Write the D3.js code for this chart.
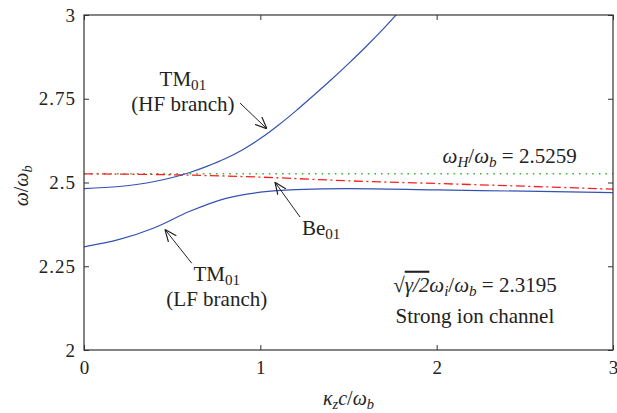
<!DOCTYPE html>
<html>
<head>
<meta charset="utf-8">
<script src="https://cdn.jsdelivr.net/npm/d3@7"></script>
<style>
body{margin:0;background:#fff;}
text{font-family:"Liberation Serif","Times New Roman",serif;fill:#222;}
</style>
</head>
<body>
<svg id="chart" width="617" height="413"></svg>
<script>
// ---- data ----
const xTicks = [0, 1, 2, 3];
const yTicks = [2, 2.25, 2.5, 2.75, 3];
const yTickLabels = ["2", "2.25", "2.5", "2.75", "3"];

const hfK = [0, 0.2, 0.4, 0.6, 0.7, 0.8, 0.9, 1.0, 1.1, 1.2, 1.3, 1.4, 1.5, 1.6, 1.7, 1.8];
const hfW = [2.482, 2.488, 2.503, 2.530, 2.549, 2.571, 2.598, 2.631, 2.670, 2.713, 2.759, 2.806, 2.855, 2.906, 2.960, 3.018];

const lfK = [0, 0.2, 0.4, 0.6, 0.8, 1.0, 1.2, 1.5, 2.0, 2.5, 3.0];
const lfW = [2.308, 2.330, 2.365, 2.414, 2.452, 2.471, 2.479, 2.482, 2.478, 2.474, 2.470];

const beK = [0, 0.5, 1.0, 1.5, 2.0, 2.5, 3.0];
const beW = [2.5259, 2.523, 2.516, 2.505, 2.497, 2.489, 2.480];

const omegaH = 2.5259;

// ---- layout ----
const svg = d3.select("#chart");
const m = {l: 84, t: 15, r: 4, b: 63};
const W = 617 - m.l - m.r, H = 413 - m.t - m.b;
const x = d3.scaleLinear().domain([0, 3]).range([0, W]);
const y = d3.scaleLinear().domain([2, 3]).range([H, 0]);
const g = svg.append("g").attr("transform", `translate(${m.l},${m.t})`);

const defs = svg.append("defs");
defs.append("clipPath").attr("id", "clip").append("rect").attr("width", W).attr("height", H);
defs.append("marker").attr("id", "arr").attr("viewBox", "0 0 10 10").attr("refX", 10).attr("refY", 5)
  .attr("markerWidth", 12).attr("markerHeight", 12).attr("markerUnits", "userSpaceOnUse").attr("orient", "auto")
  .append("path").attr("d", "M0,0.8 L10,5 L0,9.2").attr("fill", "none").attr("stroke", "#222").attr("stroke-width", 1);

// ---- lines ----
const line = d3.line().x(d => x(d[0])).y(d => y(d[1])).curve(d3.curveMonotoneX);
const plot = g.append("g").attr("clip-path", "url(#clip)");

plot.append("line").attr("x1", x(0)).attr("x2", x(3)).attr("y1", y(omegaH)).attr("y2", y(omegaH))
  .attr("stroke", "#3db43d").attr("stroke-width", 1.6).attr("stroke-dasharray", "1.6,5");
plot.append("path").datum(d3.zip(beK, beW)).attr("d", line).attr("fill", "none")
  .attr("stroke", "#f52020").attr("stroke-width", 1.3).attr("stroke-dasharray", "9,3.5,2,3.5");
plot.append("path").datum(d3.zip(hfK, hfW)).attr("d", line).attr("fill", "none")
  .attr("stroke", "#3452b2").attr("stroke-width", 1.2);
plot.append("path").datum(d3.zip(lfK, lfW)).attr("d", line).attr("fill", "none")
  .attr("stroke", "#3452b2").attr("stroke-width", 1.2);

// ---- axes (ticks inward, box) ----
const axC = "#333";
const fs = 19;
function styleAxis(sel) {
  sel.select(".domain").remove();
  sel.selectAll(".tick line").attr("stroke", axC);
  sel.selectAll(".tick text").style("font-size", fs + "px")
    .style("font-family", '"Liberation Serif",serif').attr("fill", "#222");
}
g.append("g").attr("transform", `translate(0,${H})`)
  .call(d3.axisBottom(x).tickValues(xTicks).tickFormat(d3.format("d")).tickSizeInner(-5).tickPadding(11))
  .call(styleAxis);
g.append("g")
  .call(d3.axisTop(x).tickValues(xTicks).tickFormat("").tickSizeInner(-5))
  .call(styleAxis);
g.append("g")
  .call(d3.axisLeft(y).tickValues(yTicks).tickFormat((d, i) => yTickLabels[i]).tickSizeInner(-5).tickPadding(8))
  .call(styleAxis)
  .selectAll(".tick text").style("letter-spacing", "1px");
g.append("g").attr("transform", `translate(${W},0)`)
  .call(d3.axisRight(y).tickValues(yTicks).tickFormat("").tickSizeInner(-5))
  .call(styleAxis);
g.append("rect").attr("width", W).attr("height", H).attr("fill", "none").attr("stroke", axC).attr("stroke-width", 1.2);

// ---- axis titles ----
function rich(sel, parts) {
  parts.forEach(p => {
    const t = sel.append("tspan").text(p.t);
    if (p.i) t.style("font-style", "italic");
    if (p.sub) t.attr("baseline-shift", "-25%").style("font-size", "72%");
    if (p.o) t.style("text-decoration", "overline");
  });
  return sel;
}
const xl = g.append("text").attr("x", W / 2).attr("y", H + 55).attr("text-anchor", "middle").style("font-size", "20px");
rich(xl, [{t: "κ", i: 1}, {t: "z", i: 1, sub: 1}, {t: "c", i: 1}, {t: "/"}, {t: "ω", i: 1}, {t: "b", i: 1, sub: 1}]);
const yl = g.append("text").attr("transform", `translate(-56,${y(2.49)}) rotate(-90)`).attr("text-anchor", "middle").style("font-size", "20px");
rich(yl, [{t: "ω", i: 1}, {t: "/"}, {t: "ω", i: 1}, {t: "b", i: 1, sub: 1}]);

// ---- annotations ----
const afs = "21px";
function arrow(x1, y1, x2, y2) {
  g.append("line").attr("x1", x(x1)).attr("y1", y(y1)).attr("x2", x(x2)).attr("y2", y(y2))
    .attr("stroke", "#222").attr("stroke-width", 1).attr("marker-end", "url(#arr)");
}
function label(xv, yv, anchor, parts) {
  const t = g.append("text").attr("x", x(xv)).attr("y", y(yv)).attr("text-anchor", anchor).style("font-size", afs);
  return rich(t, parts);
}
// HF
label(0.561, 2.788, "middle", [{t: "TM"}, {t: "01", sub: 1}]);
label(0.561, 2.713, "middle", [{t: "(HF branch)"}]);
arrow(0.885, 2.737, 1.038, 2.660);
// LF
label(0.753, 2.206, "middle", [{t: "TM"}, {t: "01", sub: 1}]);
label(0.753, 2.131, "middle", [{t: "(LF branch)"}]);
arrow(0.611, 2.259, 0.459, 2.360);
// Be
label(1.236, 2.343, "start", [{t: "Be"}, {t: "01", sub: 1}]);
arrow(1.225, 2.397, 1.083, 2.501);
// omega_H
label(2.794, 2.558, "end", [{t: "ω", i: 1}, {t: "H", i: 1, sub: 1}, {t: "/"}, {t: "ω", i: 1}, {t: "b", i: 1, sub: 1}, {t: " = 2.5259"}]);
// ion channel
label(2.217, 2.174, "middle", [{t: "√"}, {t: "γ/2", i: 1, o: 1}, {t: "ω", i: 1}, {t: "i", i: 1, sub: 1}, {t: "/"}, {t: "ω", i: 1}, {t: "b", i: 1, sub: 1}, {t: " = 2.3195"}]);
label(2.217, 2.080, "middle", [{t: "Strong ion channel"}]);
</script>
</body>
</html>
